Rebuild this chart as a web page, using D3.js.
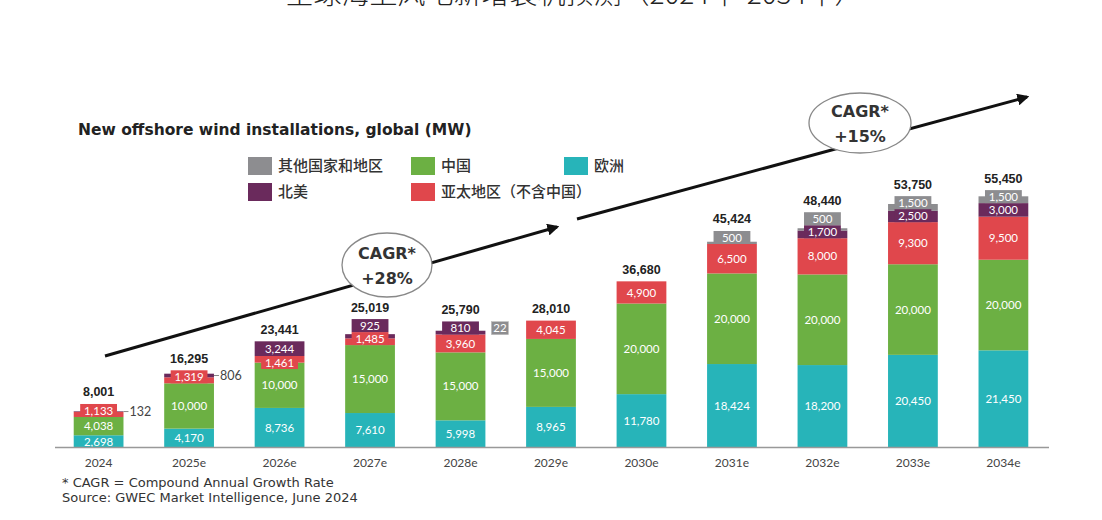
<!DOCTYPE html>
<html>
<head>
<meta charset="utf-8">
<script src="https://cdn.jsdelivr.net/npm/d3@7"></script>
<style>
  body { margin: 0; background: #fff; }
  svg { display: block; }
</style>
</head>
<body>
<script>
const years = ["2024", "2025e", "2026e", "2027e", "2028e", "2029e", "2030e", "2031e", "2032e", "2033e", "2034e"];
const europe = [2698, 4170, 8736, 7610, 5998, 8965, 11780, 18424, 18200, 20450, 21450];
const china = [4038, 10000, 10000, 15000, 15000, 15000, 20000, 20000, 20000, 20000, 20000];
const apac = [1133, 1319, 1461, 1485, 3960, 4045, 4900, 6500, 8000, 9300, 9500];
const northAmerica = [132, 806, 3244, 925, 810, 0, 0, 0, 1700, 2500, 3000];
const others = [0, 0, 0, 0, 22, 0, 0, 500, 500, 1500, 1500];
const totals = [8001, 16295, 23441, 25019, 25790, 28010, 36680, 45424, 48440, 53750, 55450];

const keys = ["europe", "china", "apac", "na", "other"];
const names = { other: "其他国家和地区", china: "中国", europe: "欧洲", na: "北美", apac: "亚太地区（不含中国）" };
const colors = { other: "#8d8d90", china: "#6cb043", europe: "#27b4b9", na: "#6a2a5c", apac: "#e0474c" };

// labels drawn beside the bar instead of inside it
const outside = { "2024|na": "leader", "2025e|na": "leader", "2028e|other": "box" };

const width = 1102, height = 520;
const baseY = 447.5;
const minH = 12;

const rows = years.map((yr, i) => ({
  year: yr, europe: europe[i], china: china[i], apac: apac[i], na: northAmerica[i], other: others[i]
}));

const x = d3.scaleBand().domain(years).range([33, 1069]).padding(0.45);
const y = d3.scaleLinear().domain([0, 60000]).range([baseY, baseY - 60000 * 0.00453]);
const series = d3.stack().keys(keys)(rows);

const svg = d3.select("body").append("svg")
  .attr("width", width).attr("height", height);

// page title cut at the top
svg.append("text")
  .attr("x", 574).attr("y", 4)
  .attr("text-anchor", "middle")
  .attr("font-family", "Noto Sans CJK SC").attr("font-weight", 300)
  .attr("font-size", 28).attr("fill", "#222")
  .text("全球海上风电新增装机预测（2024年-2034年）");

svg.append("text")
  .attr("x", 78).attr("y", 135)
  .attr("font-family", "DejaVu Sans").attr("font-weight", "bold")
  .attr("font-size", 15.5).attr("fill", "#222")
  .text("New offshore wind installations, global (MW)");

// legend
const legendItems = [
  { key: "other", x: 248, y: 166 }, { key: "china", x: 411, y: 166 }, { key: "europe", x: 564, y: 166 },
  { key: "na", x: 248, y: 192 }, { key: "apac", x: 411, y: 192 }
];
const lg = svg.append("g").selectAll("g").data(legendItems).join("g")
  .attr("transform", d => `translate(${d.x},${d.y})`);
lg.append("rect").attr("x", 0).attr("y", -9).attr("width", 24).attr("height", 18)
  .attr("fill", d => colors[d.key]);
lg.append("text").attr("x", 30).attr("y", 0).attr("dy", "0.36em")
  .attr("font-family", "Noto Sans CJK SC").attr("font-weight", 500)
  .attr("font-size", 15).attr("fill", "#333")
  .text(d => names[d.key]);

// growth arrows
const defs = svg.append("defs");
defs.append("marker").attr("id", "arrow")
  .attr("viewBox", "0 0 10 10").attr("refX", 8).attr("refY", 5)
  .attr("markerWidth", 4).attr("markerHeight", 4).attr("orient", "auto")
  .append("path").attr("d", "M0,0L10,5L0,10z").attr("fill", "#111");

const arrows = [
  { x1: 105, y1: 356, x2: 557, y2: 227, cx: 387, cy: 265, rx: 45, ry: 32, text: "+28%" },
  { x1: 577, y1: 219, x2: 1027, y2: 97, cx: 860, cy: 123, rx: 51, ry: 30, text: "+15%" }
];
arrows.forEach(a => {
  svg.append("line")
    .attr("x1", a.x1).attr("y1", a.y1).attr("x2", a.x2).attr("y2", a.y2)
    .attr("stroke", "#111").attr("stroke-width", 3)
    .attr("marker-end", "url(#arrow)");
  svg.append("ellipse")
    .attr("cx", a.cx).attr("cy", a.cy).attr("rx", a.rx).attr("ry", a.ry)
    .attr("fill", "#fff").attr("stroke", "#888").attr("stroke-width", 1.3);
  svg.append("text").attr("x", a.cx).attr("y", a.cy - 12).attr("dy", "0.36em")
    .attr("text-anchor", "middle").attr("font-family", "DejaVu Sans").attr("font-weight", "bold")
    .attr("font-size", 16).attr("fill", "#333").text("CAGR*");
  svg.append("text").attr("x", a.cx).attr("y", a.cy + 13).attr("dy", "0.36em")
    .attr("text-anchor", "middle").attr("font-family", "DejaVu Sans").attr("font-weight", "bold")
    .attr("font-size", 16).attr("fill", "#333").text(a.text);
});

// bars
const fmt = d3.format(",");
const bw = x.bandwidth();

series.forEach(s => {
  svg.append("g").selectAll("rect")
    .data(s.filter(d => d[1] > d[0]))
    .join("rect")
    .attr("x", d => x(d.data.year))
    .attr("y", d => y(d[1]))
    .attr("width", bw)
    .attr("height", d => y(d[0]) - y(d[1]))
    .attr("fill", colors[s.key]);
});

const labels = svg.append("g")
  .attr("font-family", "Lato").attr("font-size", 11.5).attr("text-anchor", "middle");

years.forEach((yr, i) => {
  const x0 = x(yr), cx = x0 + bw / 2;
  let top = y(totals[i]);
  let boxTop = Infinity;
  series.forEach((s, k) => {
    const d = s[i];
    const v = d[1] - d[0];
    if (v <= 0) return;
    const y0 = y(d[0]), y1 = y(d[1]), h = y0 - y1;
    const mode = outside[yr + "|" + s.key];
    if (mode === "leader") {
      const ly = (y0 + y1) / 2;
      labels.append("line").attr("x1", x0 + bw).attr("y1", ly).attr("x2", x0 + bw + 5).attr("y2", ly)
        .attr("stroke", "#888").attr("stroke-width", 1);
      labels.append("text").attr("x", x0 + bw + 6).attr("y", ly).attr("dy", "0.36em")
        .attr("text-anchor", "start").attr("fill", "#444").attr("font-size", 12.5).text(fmt(v));
      return;
    }
    if (mode === "box") {
      const bx = x0 + bw + 6, by = y1 - 9;
      labels.append("rect").attr("x", bx).attr("y", by).attr("width", 17).attr("height", 13)
        .attr("fill", colors[s.key]).attr("stroke", "#bbb").attr("stroke-width", 0.6);
      labels.append("text").attr("x", bx + 8.5).attr("y", by + 6.5).attr("dy", "0.36em")
        .attr("fill", "#fff").text(fmt(v));
      return;
    }
    if (h < minH) {
      // next visible segment above: if it carries its own inside label, hang the box downwards
      const above = series.slice(k + 1).find(t => t[i][1] - t[i][0] > 0);
      const aboveBig = above && !outside[yr + "|" + above.key] && (y(above[i][0]) - y(above[i][1])) >= minH;
      let bTop;
      if (aboveBig) {
        bTop = y1;
      } else {
        bTop = Math.min(y0, boxTop) - 13;
        boxTop = bTop;
      }
      top = Math.min(top, bTop);
      labels.append("rect").attr("x", cx - bw * 0.37).attr("y", bTop)
        .attr("width", bw * 0.74).attr("height", 13).attr("fill", colors[s.key]);
      labels.append("text").attr("x", cx).attr("y", bTop + 6.5).attr("dy", "0.36em")
        .attr("fill", "#fff").text(fmt(v));
    } else {
      boxTop = Math.min(boxTop, y1);
      labels.append("text").attr("x", cx).attr("y", (y0 + y1) / 2).attr("dy", "0.36em")
        .attr("fill", "#fff").text(fmt(v));
    }
  });
  svg.append("text").attr("x", cx).attr("y", top - 12).attr("dy", "0.36em")
    .attr("text-anchor", "middle").attr("font-family", "Liberation Sans").attr("font-weight", "bold")
    .attr("font-size", 12.5).attr("fill", "#222").text(fmt(totals[i]));
});

// x axis
const axis = svg.append("g").attr("transform", `translate(0,${baseY})`)
  .call(d3.axisBottom(x).tickSize(0).tickPadding(11));
axis.select(".domain").remove();
axis.selectAll("text").attr("font-family", "Lato").attr("font-size", 12).attr("fill", "#444");
svg.append("line").attr("x1", 55).attr("x2", 1049).attr("y1", baseY).attr("y2", baseY)
  .attr("stroke", "#999").attr("stroke-width", 1.5);

// footnotes
const notes = ["* CAGR = Compound Annual Growth Rate", "Source: GWEC Market Intelligence, June 2024"];
svg.append("g").selectAll("text").data(notes).join("text")
  .attr("x", 62).attr("y", (d, i) => 482 + i * 15).attr("dy", "0.36em")
  .attr("font-family", "DejaVu Sans").attr("font-size", 13).attr("fill", "#333")
  .text(d => d);
</script>
</body>
</html>
